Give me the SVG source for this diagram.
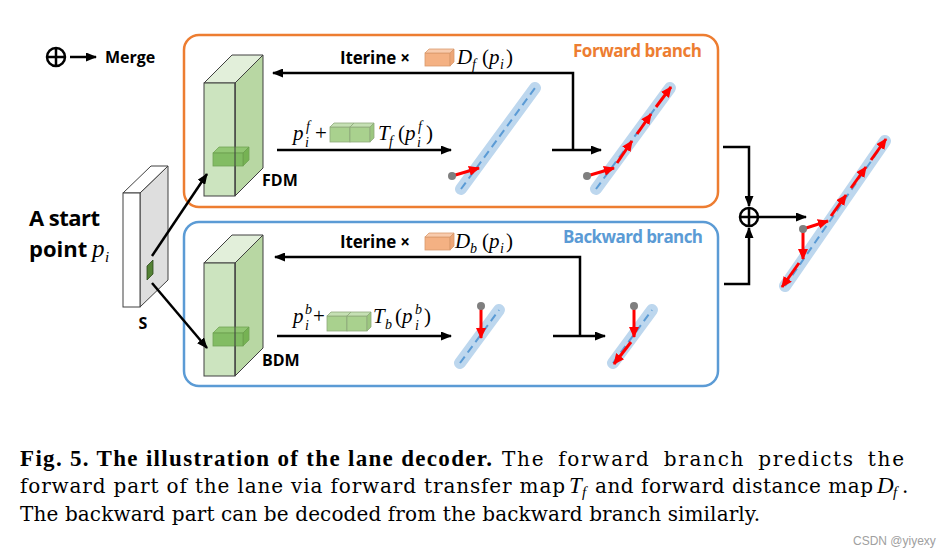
<svg xmlns="http://www.w3.org/2000/svg" width="941" height="557" viewBox="0 0 941 557">
<style>
.lbl{font-family:"Open Sans","Liberation Sans",sans-serif;font-weight:700;fill:#000}
.m{font-family:"Liberation Serif","DejaVu Serif",serif;font-style:italic;font-size:21px;fill:#000}
.mu{font-family:"Liberation Serif","DejaVu Serif",serif;font-size:21px;fill:#000}
.ms{font-family:"Liberation Serif","DejaVu Serif",serif;font-style:italic;font-size:14px;fill:#000}
.cap{font-family:"DejaVu Serif","Liberation Serif",serif;font-size:20px;fill:#000}
.capb{font-family:"Liberation Serif","DejaVu Serif",serif;font-size:23px;font-weight:700;fill:#000}
.capi{font-family:"Liberation Serif","DejaVu Serif",serif;font-size:23px;font-style:italic;fill:#000}
.conn{fill:none;stroke:#000;stroke-width:2.5}
.red{fill:none;stroke:#f00;stroke-width:3}
.lane{stroke:#bdd7ee;stroke-width:12;stroke-linecap:round;fill:none}
.dash{stroke:#5b9bd5;stroke-width:2;stroke-dasharray:8 5;fill:none}
.edge{stroke:#404040;stroke-width:1}
.dot{fill:#7f7f7f}
</style>
<defs>
<marker id="ak" markerUnits="userSpaceOnUse" markerWidth="11" markerHeight="9" refX="10" refY="4.5" orient="auto"><path d="M0,0 L11,4.5 L0,9 z" fill="#000"/></marker>
<marker id="ar" markerUnits="userSpaceOnUse" markerWidth="11" markerHeight="10" refX="10" refY="5" orient="auto"><path d="M0,0 L11,5 L0,10 z" fill="#f00"/></marker>
<g id="gcube"><rect x="0" y="4" width="20" height="15" fill="#a9d18e" stroke="#8faa7c" stroke-width="0.8"/><polygon points="0,4 20,4 24,0 4,0" fill="#c5e0b4" stroke="#8faa7c" stroke-width="0.8"/><polygon points="20,4 24,0 24,15 20,19" fill="#9cc77f" stroke="#8faa7c" stroke-width="0.8"/></g>
<g id="ocube"><rect x="0" y="4" width="25" height="13" fill="#f4b183" stroke="#d99a6c" stroke-width="0.8"/><polygon points="0,4 25,4 29,0 4,0" fill="#f8cbad" stroke="#d99a6c" stroke-width="0.8"/><polygon points="25,4 29,0 29,13 25,17" fill="#eda676" stroke="#d99a6c" stroke-width="0.8"/></g>
<g id="block">
<polygon points="31,28 59,0 59,113 31,141" fill="#b8d7a3" class="edge"/>
<polygon points="0,28 31,28 59,0 28,0" fill="#e2efda" class="edge"/>
<rect x="0" y="28" width="31" height="113" fill="#cce4bf" class="edge"/>
<polygon points="9,98 39,98 45,92 15,92" fill="#8cc46c" stroke="#6a9f4c" stroke-width="0.8" opacity="0.9"/>
<polygon points="39,98 45,92 45,105 39,111" fill="#6fae4b" stroke="#6a9f4c" stroke-width="0.8" opacity="0.9"/>
<rect x="9" y="98" width="30" height="13" fill="#7ab85a" stroke="#6a9f4c" stroke-width="0.8" opacity="0.9"/>
<line x1="31" y1="28" x2="31" y2="141" class="edge"/>
</g>
</defs>

<g id="legend">
<circle cx="56" cy="57" r="9" fill="none" stroke="#000" stroke-width="2.5"/>
<path d="M47,57 H65 M56,48 V66" stroke="#000" stroke-width="2.5"/>
<line x1="70" y1="57" x2="96" y2="57" class="conn" marker-end="url(#ak)"/>
<text x="105" y="63" class="lbl" font-size="16">Merge</text>
</g>

<g id="forward-branch">
<rect x="184" y="35" width="534" height="172" rx="15" fill="none" stroke="#ed7d31" stroke-width="2.5"/>
<text x="573" y="57" class="lbl" font-size="17" style="fill:#ed7d31" textLength="129">Forward branch</text>
</g>
<g id="backward-branch">
<rect x="184" y="222" width="534" height="164" rx="15" fill="none" stroke="#5b9bd5" stroke-width="2.5"/>
<text x="563" y="243" class="lbl" font-size="17" style="fill:#5b9bd5" textLength="140">Backward branch</text>
</g>

<g id="start-point">
<text x="29" y="226" class="lbl" font-size="22" textLength="71">A start</text>
<text x="29" y="257" class="lbl" font-size="22">point</text>
<text x="92" y="257" class="m" style="font-size:25px">p</text>
<text x="105" y="262" class="ms" style="font-size:15px">i</text>
</g>

<g id="S">
<polygon points="140,193 168,166 168,280 140,307" fill="#dedede" class="edge"/>
<polygon points="123,193 140,193 168,166 151,166" fill="#fff" class="edge"/>
<rect x="123" y="193" width="17" height="114" fill="#fff" class="edge"/>
<polygon points="147,266 153,260 153,274 147,280" fill="#548235" stroke="#2e4a1d" stroke-width="0.8"/>
<text x="143" y="329" class="lbl" font-size="16" text-anchor="middle">S</text>
</g>

<g id="FDM">
<use href="#block" x="204" y="55"/>
<text x="262" y="186" class="lbl" font-size="16">FDM</text>
</g>
<g id="BDM">
<use href="#block" x="204" y="235"/>
<text x="262" y="366" class="lbl" font-size="16">BDM</text>
</g>

<g id="label-Df">
<text x="340" y="64" class="lbl" font-size="17" textLength="70">Iterine ×</text>
<use href="#ocube" x="425" y="49"/>
<text x="457" y="64" class="m">D</text><text x="472" y="69" class="ms">f</text>
<text x="482" y="64" class="mu">(</text><text x="489" y="64" class="m">p</text><text x="500" y="69" class="ms">i</text><text x="506" y="64" class="mu">)</text>
</g>
<g id="label-Db">
<text x="340" y="248" class="lbl" font-size="17" textLength="70">Iterine ×</text>
<use href="#ocube" x="425" y="233"/>
<text x="455" y="248" class="m">D</text><text x="470" y="253" class="ms">b</text>
<text x="482" y="248" class="mu">(</text><text x="489" y="248" class="m">p</text><text x="500" y="253" class="ms">i</text><text x="506" y="248" class="mu">)</text>
</g>
<g id="label-Tf">
<text x="293" y="140" class="m">p</text><text x="306" y="131" class="ms">f</text><text x="305" y="147" class="ms">i</text>
<text x="315" y="140" class="mu">+</text>
<use href="#gcube" x="330" y="123"/><use href="#gcube" x="350" y="123"/>
<text x="378" y="140" class="m">T</text><text x="389" y="146" class="ms">f</text>
<text x="398" y="140" class="mu">(</text><text x="405" y="140" class="m">p</text><text x="418" y="131" class="ms">f</text><text x="417" y="147" class="ms">i</text><text x="426" y="140" class="mu">)</text>
</g>
<g id="label-Tb">
<text x="293" y="323" class="m">p</text><text x="305" y="314" class="ms">b</text><text x="305" y="330" class="ms">i</text>
<text x="313" y="323" class="mu">+</text>
<use href="#gcube" x="327" y="312"/><use href="#gcube" x="347" y="312"/>
<text x="373" y="323" class="m">T</text><text x="385" y="329" class="ms">b</text>
<text x="395" y="323" class="mu">(</text><text x="402" y="323" class="m">p</text><text x="415" y="314" class="ms">b</text><text x="415" y="330" class="ms">i</text><text x="424" y="323" class="mu">)</text>
</g>

<g id="lane-f1">
<line x1="461" y1="189" x2="535" y2="88" class="lane"/>
<line x1="461" y1="189" x2="535" y2="88" class="dash"/>
<line x1="452" y1="176" x2="479" y2="168" class="red" marker-end="url(#ar)"/>
<circle cx="452" cy="176" r="4" class="dot"/>
</g>
<g id="lane-f2">
<line x1="596" y1="189" x2="670" y2="88" class="lane"/>
<line x1="596" y1="189" x2="670" y2="88" class="dash"/>
<line x1="587" y1="176" x2="614" y2="168" class="red" marker-end="url(#ar)"/>
<line x1="617" y1="163" x2="632" y2="141" class="red" marker-end="url(#ar)"/>
<line x1="637" y1="134" x2="651" y2="114" class="red" marker-end="url(#ar)"/>
<line x1="656" y1="107" x2="671" y2="87" class="red" marker-end="url(#ar)"/>
<circle cx="587" cy="176" r="4" class="dot"/>
</g>
<g id="lane-b1">
<line x1="460" y1="363" x2="499" y2="310" class="lane"/>
<line x1="460" y1="363" x2="499" y2="310" class="dash"/>
<line x1="481" y1="309" x2="481" y2="338" class="red" marker-end="url(#ar)"/>
<circle cx="481" cy="306" r="4" class="dot"/>
</g>
<g id="lane-b2">
<line x1="613" y1="363" x2="652" y2="310" class="lane"/>
<line x1="613" y1="363" x2="652" y2="310" class="dash"/>
<line x1="634" y1="309" x2="634" y2="337" class="red" marker-end="url(#ar)"/>
<line x1="631" y1="342" x2="614" y2="364" class="red" marker-end="url(#ar)"/>
<circle cx="634" cy="306" r="4" class="dot"/>
</g>
<g id="lane-out">
<line x1="785" y1="286" x2="885" y2="141" class="lane"/>
<line x1="785" y1="286" x2="885" y2="141" class="dash"/>
<line x1="803" y1="229" x2="828" y2="221" class="red" marker-end="url(#ar)"/>
<line x1="831" y1="216" x2="846" y2="195" class="red" marker-end="url(#ar)"/>
<line x1="851" y1="188" x2="866" y2="167" class="red" marker-end="url(#ar)"/>
<line x1="871" y1="160" x2="886" y2="139" class="red" marker-end="url(#ar)"/>
<line x1="803" y1="231" x2="803" y2="259" class="red" marker-end="url(#ar)"/>
<line x1="799" y1="263" x2="782" y2="287" class="red" marker-end="url(#ar)"/>
<circle cx="803" cy="229" r="4" class="dot"/>
</g>

<g id="merge">
<circle cx="749" cy="217" r="9" fill="#fff" stroke="#000" stroke-width="2.5"/>
<path d="M740,217 H758 M749,208 V226" stroke="#000" stroke-width="2.5"/>
</g>

<g id="connectors">
<line x1="152" y1="256" x2="207" y2="174" class="conn" marker-end="url(#ak)"/>
<line x1="152" y1="283" x2="207" y2="348" class="conn" marker-end="url(#ak)"/>
<line x1="277" y1="150" x2="451" y2="150" class="conn" marker-end="url(#ak)"/>
<path d="M573,150 V73 H273" class="conn" marker-end="url(#ak)"/>
<line x1="552" y1="150" x2="601" y2="150" class="conn" marker-end="url(#ak)"/>
<line x1="277" y1="336" x2="451" y2="336" class="conn" marker-end="url(#ak)"/>
<path d="M580,336 V257 H275" class="conn" marker-end="url(#ak)"/>
<line x1="553" y1="336" x2="605" y2="336" class="conn" marker-end="url(#ak)"/>
<path d="M723,147 H749 V206" class="conn" marker-end="url(#ak)"/>
<path d="M724,284 H749 V228" class="conn" marker-end="url(#ak)"/>
<line x1="759" y1="217" x2="806" y2="217" class="conn" marker-end="url(#ak)"/>
</g>

<g id="caption">
<text x="20" y="466" class="capb" textLength="472">Fig. 5. The illustration of the lane decoder.</text>
<text x="502" y="466" class="cap" word-spacing="5" textLength="402">The forward branch predicts the</text>
<text x="20" y="493" class="cap" textLength="545">forward part of the lane via forward transfer map</text>
<text x="569" y="493" class="capi">T</text>
<text x="582" y="497" class="capi" style="font-size:15px">f</text>
<text x="595" y="493" class="cap" textLength="278">and forward distance map</text>
<text x="877" y="493" class="capi">D</text>
<text x="893" y="497" class="capi" style="font-size:15px">f</text>
<text x="902" y="493" class="cap">.</text>
<text x="20" y="521" class="cap" textLength="740">The backward part can be decoded from the backward branch similarly.</text>
<text x="853" y="545" font-family="Liberation Sans,Arial,sans-serif" font-size="12" fill="#a0a0a0">CSDN @yiyexy</text>
</g>
</svg>
